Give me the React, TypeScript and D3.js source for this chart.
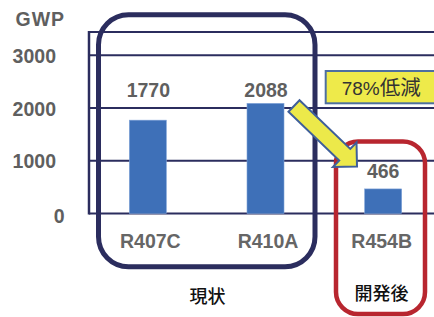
import React from "react";
import * as d3 from "d3";

const categories = ["R407C", "R410A", "R454B"];
const gwpValues = [1770, 2088, 466];
const yTicks = [0, 1000, 2000, 3000];
const groupLabels = ["現状", "開発後"];
const reductionPct = "78%";
const reductionText = "低減";
const axisTitle = "GWP";

const W = 434;
const H = 317;
const NAVY = "#2b2d5e";
const RED = "#b8262f";
const BAR = "#3e70b8";
const GRAY = "#5f5f5f";
const LATIN = "'Liberation Sans', Arial, sans-serif";
const CJK = "'Noto Sans CJK JP', 'Noto Sans', sans-serif";

export default function App() {
  const y = d3.scaleLinear().domain([0, 3000]).range([213.5, 55.3]);
  const x = d3
    .scaleBand<string>()
    .domain(categories)
    .range([89, 442])
    .paddingInner(0.6856)
    .paddingOuter(0.3428);
  const bw = x.bandwidth();

  // arrow geometry
  const T: [number, number] = [294, 106];
  const P: [number, number] = [357, 166.5];
  const dx = P[0] - T[0];
  const dy = P[1] - T[1];
  const len = Math.hypot(dx, dy);
  const u = [dx / len, dy / len];
  const n = [u[1], -u[0]];
  const headLen = 17;
  const B = [P[0] - u[0] * headLen, P[1] - u[1] * headLen];
  const sw = 8;
  const hw = 17;
  const pts = [
    [T[0] + n[0] * sw, T[1] + n[1] * sw],
    [B[0] + n[0] * sw, B[1] + n[1] * sw],
    [B[0] + n[0] * hw, B[1] + n[1] * hw],
    P,
    [B[0] - n[0] * hw, B[1] - n[1] * hw],
    [B[0] - n[0] * sw, B[1] - n[1] * sw],
    [T[0] - n[0] * sw, T[1] - n[1] * sw],
  ];
  const arrowPath = d3.line()(pts as [number, number][]) + "Z";

  const valueLabelY = (v: number, i: number) =>
    i < 2 ? y(2200) : y(v) - 11;

  return (
    <svg
      width={W}
      height={H}
      style={{ position: "absolute", left: 0, top: 0, background: "#fff" }}
    >
      <rect x={0} y={0} width={W} height={H} fill="#fff" />
      {/* axis title */}
      <text
        x={15.5}
        y={26}
        fontFamily={LATIN}
        fontWeight="bold"
        fontSize={19.5}
        letterSpacing={1}
        fill={GRAY}
      >
        {axisTitle}
      </text>

      {/* plot frame */}
      <line x1={89} x2={W} y1={32} y2={32} stroke={NAVY} strokeWidth={2} />
      <line x1={89} x2={89} y1={31} y2={y(0) + 1} stroke={NAVY} strokeWidth={2.5} />
      {yTicks.map((t) => (
        <line key={t} x1={89} x2={W} y1={y(t)} y2={y(t)} stroke={NAVY} strokeWidth={2} />
      ))}
      {yTicks.map((t) => (
        <text
          key={"l" + t}
          x={t === 0 ? 64.5 : 56}
          y={y(t) + (t === 0 ? 9 : 7.5)}
          textAnchor="end"
          fontFamily={LATIN}
          fontWeight="bold"
          fontSize={19.5}
          fill={GRAY}
        >
          {t}
        </text>
      ))}

      {/* bars */}
      {categories.map((c, i) => (
        <rect
          key={c}
          x={x(c)}
          y={y(gwpValues[i])}
          width={bw}
          height={y(0) - y(gwpValues[i])}
          fill={BAR}
          stroke="#7fa3d8"
          strokeWidth={0.6}
        />
      ))}
      {categories.map((c, i) => (
        <text
          key={"v" + c}
          x={(x(c) as number) + bw / 2 + (i < 2 ? 0.5 : 0)}
          y={valueLabelY(gwpValues[i], i)}
          textAnchor="middle"
          fontFamily={LATIN}
          fontWeight="bold"
          fontSize={19.5}
          fill={GRAY}
        >
          {gwpValues[i]}
        </text>
      ))}
      {categories.map((c, i) => (
        <text
          key={"c" + c}
          x={(x(c) as number) + bw / 2 + (i < 2 ? 2.5 : -1.5)}
          y={248}
          textAnchor="middle"
          fontFamily={LATIN}
          fontWeight="bold"
          fontSize={19.5}
          fill="#666"
        >
          {c}
        </text>
      ))}

      {/* group boxes */}
      <rect
        x={98.5}
        y={14.8}
        width={216.5}
        height={252}
        rx={30}
        ry={30}
        fill="none"
        stroke={NAVY}
        strokeWidth={5}
      />
      <rect
        x={336}
        y={141.5}
        width={89}
        height={172.5}
        rx={22}
        ry={22}
        fill="none"
        stroke={RED}
        strokeWidth={4.5}
      />
      <text
        x={207.5}
        y={303}
        textAnchor="middle"
        fontFamily={CJK}
        fontWeight={500}
        fontSize={18}
        fill="#111"
      >
        {groupLabels[0]}
      </text>
      <text
        x={381.5}
        y={300}
        textAnchor="middle"
        fontFamily={CJK}
        fontWeight={500}
        fontSize={18}
        fill="#111"
      >
        {groupLabels[1]}
      </text>

      {/* reduction callout */}
      <rect
        x={325.7}
        y={71}
        width={130}
        height={32.3}
        fill="#eeea4a"
        stroke="#4d6fa0"
        strokeWidth={2}
      />
      <text x={341.7} y={95} fill="#333">
        <tspan fontFamily={LATIN} fontSize={19}>
          {reductionPct}
        </tspan>
        <tspan fontFamily={CJK} fontSize={20.5}>
          {reductionText}
        </tspan>
      </text>
      <path d={arrowPath} fill="#ece94a" stroke="#3f5f9a" strokeWidth={2} strokeLinejoin="miter" />
    </svg>
  );
}
